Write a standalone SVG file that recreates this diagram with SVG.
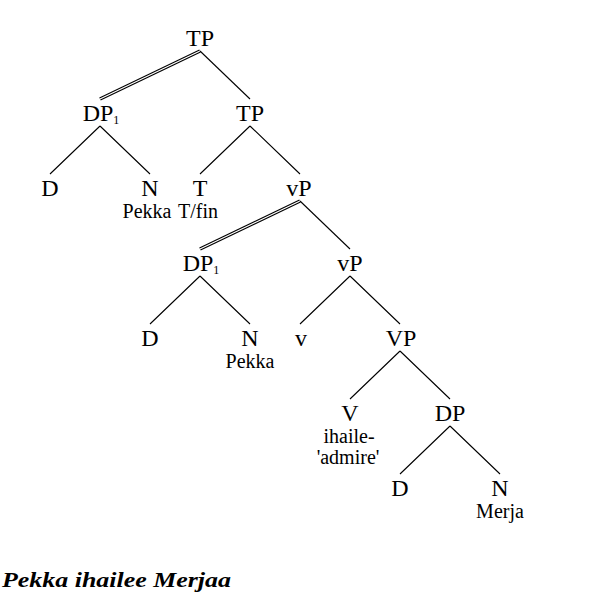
<svg xmlns="http://www.w3.org/2000/svg" width="600" height="600" viewBox="0 0 600 600">
<style>
.lab{font-family:"Liberation Serif","Times New Roman",serif;font-size:24px;text-anchor:middle;fill:#000}
.sub{font-size:12px}
.word{font-family:"Liberation Serif","Times New Roman",serif;font-size:20px;text-anchor:middle;fill:#000}
.edge{stroke:#000;stroke-width:1.1;fill:none}
.dbl-o{stroke:#000;stroke-width:3.4;fill:none}
.dbl-i{stroke:#fff;stroke-width:1.2;fill:none}
.cap{font-family:"Liberation Serif","Times New Roman",serif;font-size:21px;font-weight:bold;font-style:italic;fill:#000}
</style>
<rect width="600" height="600" fill="#fff"/>
<g id="connectors">
<path class="dbl-o" d="M200,51 L100,99"/>
<path class="dbl-i" d="M200,51 L100,99"/>
<path class="edge" d="M200,51 L250,99"/>
<path class="edge" d="M100,126 L50,174 M100,126 L150,174"/>
<path class="edge" d="M250,126 L200,174 M250,126 L300,174"/>
<path class="dbl-o" d="M300,201 L200,249"/>
<path class="dbl-i" d="M300,201 L200,249"/>
<path class="edge" d="M300,201 L350,249"/>
<path class="edge" d="M200,276 L150,324 M200,276 L250,324"/>
<path class="edge" d="M350,276 L300,324 M350,276 L400,324"/>
<path class="edge" d="M400,351 L350,399 M400,351 L450,399"/>
<path class="edge" d="M450,426 L400,474 M450,426 L500,474"/>
</g>
<g id="n-tp-top"><text class="lab" x="200" y="46">TP</text></g>
<g id="n-dp1-a"><text class="lab" x="101" y="121">DP<tspan class="sub" dy="3">1</tspan></text></g>
<g id="n-tp-b"><text class="lab" x="250" y="121">TP</text></g>
<g id="n-d-a"><text class="lab" x="50" y="196">D</text></g>
<g id="n-n-a"><text class="lab" x="150" y="196">N</text><text class="word" x="147" y="218">Pekka</text></g>
<g id="n-t"><text class="lab" x="200" y="196">T</text><text class="word" x="198" y="218">T/fin</text></g>
<g id="n-vp-a"><text class="lab" x="299" y="196">vP</text></g>
<g id="n-dp1-b"><text class="lab" x="201" y="271">DP<tspan class="sub" dy="3">1</tspan></text></g>
<g id="n-vp-b"><text class="lab" x="350" y="271">vP</text></g>
<g id="n-d-b"><text class="lab" x="150" y="346">D</text></g>
<g id="n-n-b"><text class="lab" x="250" y="346">N</text><text class="word" x="250" y="368">Pekka</text></g>
<g id="n-v"><text class="lab" x="301" y="346">v</text></g>
<g id="n-vp-c"><text class="lab" x="401" y="346">VP</text></g>
<g id="n-v-big"><text class="lab" x="350" y="421">V</text><text class="word" x="349" y="443">ihaile-</text><text class="word" x="348" y="464">'admire'</text></g>
<g id="n-dp-c"><text class="lab" x="450" y="421">DP</text></g>
<g id="n-d-c"><text class="lab" x="400" y="496">D</text></g>
<g id="n-n-c"><text class="lab" x="500" y="496">N</text><text class="word" x="500" y="518">Merja</text></g>
<text class="cap" x="2" y="587" textLength="229" lengthAdjust="spacingAndGlyphs">Pekka ihailee Merjaa</text>
</svg>
